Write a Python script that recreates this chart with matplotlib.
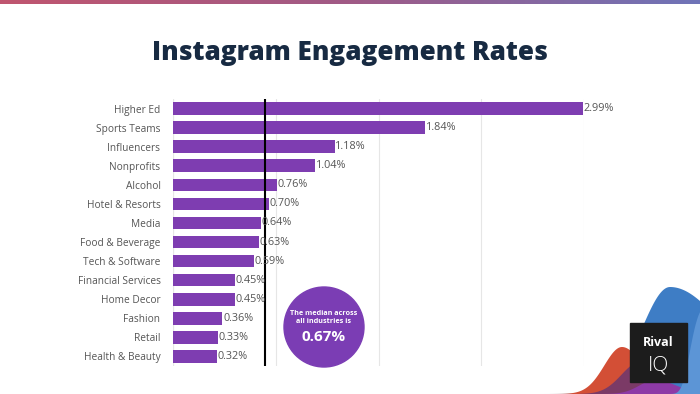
import numpy as np
import matplotlib
matplotlib.use("Agg")
import matplotlib.pyplot as plt
from matplotlib.patches import Ellipse, Polygon, Rectangle

# =========================
# DATA
# =========================
industries = ["Higher Ed", "Sports Teams", "Influencers", "Nonprofits", "Alcohol",
              "Hotel & Resorts", "Media", "Food & Beverage", "Tech & Software",
              "Financial Services", "Home Decor", "Fashion", "Retail", "Health & Beauty"]
rates = [2.99, 1.84, 1.18, 1.04, 0.76, 0.70, 0.64, 0.63, 0.59, 0.45, 0.45, 0.36, 0.33, 0.32]
median_rate = 0.67
grid_ticks = [0, 0.75, 1.5, 2.25, 3.0]

plt.rcParams["font.family"] = ["Open Sans", "DejaVu Sans"]

W, H = 700, 394
fig = plt.figure(figsize=(7, 3.94), dpi=100)
fig.patch.set_facecolor("white")

# top gradient strip
strip = fig.add_axes([0, 1 - 4 / H, 1, 4 / H])
grad = np.linspace(0, 1, 256).reshape(1, -1)
cmap = matplotlib.colors.LinearSegmentedColormap.from_list("g", ["#c0556f", "#a05a86", "#6f74b8"])
strip.imshow(grad, aspect="auto", cmap=cmap)
strip.axis("off")

# title
fig.text(0.5, 1 - 53 / H, "Instagram Engagement Rates", ha="center", va="center",
         fontsize=18.8, fontweight="heavy", color="#172a42")

# =========================
# BAR CHART
# =========================
ax = fig.add_axes([173 / W, 1 - 366 / H, (584 - 173) / W, (366 - 99) / H])
y = np.arange(len(industries))
ax.barh(y, rates, height=0.66, color="#7e3db1", zorder=2)
for yi, v in zip(y, rates):
    ax.text(v + 0.005, yi, f"{v:.2f}%", va="center", ha="left", fontsize=7.8, color="#555555", zorder=4)

ax.set_yticks(y)
ax.set_yticklabels(industries, fontsize=7.3, color="#555555")
ax.tick_params(axis="y", length=0, pad=9)
ax.set_xticks(grid_ticks)
ax.tick_params(axis="x", length=0, labelbottom=False)
ax.grid(axis="x", color="#e6e6e6", linewidth=0.8, zorder=0)
ax.set_xlim(0, 3.0)
ax.set_ylim(len(industries) - 0.5, -0.5)
for s in ax.spines.values():
    s.set_visible(False)
ax.axvline(0, color="#dddddd", linewidth=0.8, zorder=1)
ax.axvline(median_rate, color="black", linewidth=1.5, zorder=3)

# median bubble
cx, cy, r = 324, 327, 40
fig.add_artist(Ellipse((cx / W, 1 - cy / H), 2 * r / W, 2 * r / H, color="#7b3db4",
                       transform=fig.transFigure))
fig.text(cx / W, 1 - 317.5 / H, "The median across\nall industries is", ha="center", va="center",
         fontsize=5.2, fontweight="bold", color="white", linespacing=1.25)
fig.text(cx / W, 1 - 337 / H, f"{median_rate:.2f}%", ha="center", va="center",
         fontsize=11, fontweight="bold", color="white")

# =========================
# LOGO (bottom right)
# =========================
deco = fig.add_axes([0, 0, 1, 1], zorder=5)
deco.set_xlim(0, W)
deco.set_ylim(H, 0)
deco.axis("off")


def blob(x0, x1, peak_x, peak_y, sl, sr, color, p=2):
    xs = np.linspace(x0, x1, 200)
    s = np.where(xs < peak_x, sl, sr)
    ys = H - (H - peak_y) * np.exp(-(np.abs(xs - peak_x) / s) ** p)
    pts = np.column_stack([np.r_[xs, x1, x0], np.r_[ys, H, H]])
    deco.add_patch(Polygon(pts, closed=True, color=color, lw=0))


blob(540, 760, 670, 287, 40, 80, "#3e7dc5")
blob(550, 700, 622, 347, 25, 30, "#d34f36")
blob(580, 700, 640, 362, 26, 28, "#7b3a66")
blob(600, 720, 655, 380, 22, 30, "#8d3aa6")
blob(660, 780, 714, 305, 26, 45, "#5c95d6", p=4)
deco.add_patch(Rectangle((630, 323), 57, 59, color="#1c1c1c"))
deco.text(658, 343, "Rival", ha="center", va="center", fontsize=9, fontweight="bold", color="white")
deco.text(658, 366, "IQ", ha="center", va="center", fontsize=15, fontweight="light", color="white")

fig.savefig("out.png", dpi=100)
